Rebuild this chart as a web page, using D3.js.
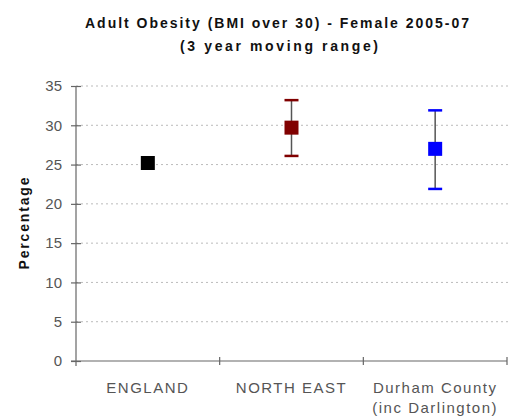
<!DOCTYPE html>
<html>
<head>
<meta charset="utf-8">
<title>Adult Obesity - Female 2005-07</title>
<style>
  body { margin: 0; background: #fff; }
  svg { display: block; font-family: Arial, "Liberation Sans", sans-serif; }
  .title { font-weight: bold; font-size: 14px; fill: #111; }
  .axis text { font-size: 15px; fill: #555; }
  .axis path, .axis line { stroke: #666; stroke-width: 1.2; }
  .grid line { stroke: #bbb; stroke-dasharray: 2,3; }
</style>
<script src="https://d3js.org/d3.v7.min.js"></script>
</head>
<body>
<svg width="508" height="418"></svg>
<script>
// data
var categories = ["ENGLAND", "NORTH EAST", "Durham County"];
var catLines = [["ENGLAND"], ["NORTH EAST"], ["Durham County", "(inc Darlington)"]];
var values = [25.2, 29.7, 27.0];
var lower = [null, 26.1, 21.9];
var upper = [null, 33.2, 31.9];
var markerColors = ["#000000", "#800000", "#0000ff"];
var yTicks = [0, 5, 10, 15, 20, 25, 30, 35];

var svg = d3.select("svg");
var margin = {top: 86, right: 0, bottom: 57, left: 76};
var W = +svg.attr("width"), H = +svg.attr("height");

var x = d3.scaleBand().domain(categories).range([margin.left, W - 1]).padding(0);
var y = d3.scaleLinear().domain([0, 35]).range([H - margin.bottom, margin.top]);

// title
svg.append("text").attr("class", "title")
  .attr("x", 277).attr("y", 28).attr("text-anchor", "middle")
  .attr("textLength", 384).attr("lengthAdjust", "spacing")
  .text("Adult Obesity (BMI over 30) - Female 2005-07");
svg.append("text").attr("class", "title")
  .attr("x", 279).attr("y", 51).attr("text-anchor", "middle")
  .attr("textLength", 198).attr("lengthAdjust", "spacing")
  .text("(3  year moving range)");

// gridlines
svg.append("g").attr("class", "grid")
  .selectAll("line").data(yTicks.filter(function(d) { return d > 0; }))
  .enter().append("line")
  .attr("x1", margin.left).attr("x2", W)
  .attr("y1", function(d) { return y(d); }).attr("y2", function(d) { return y(d); });

// y axis
var gy = svg.append("g").attr("class", "axis")
  .attr("transform", "translate(" + margin.left + ",0)")
  .call(d3.axisLeft(y).tickValues(yTicks).tickSize(5).tickPadding(9));
gy.select(".domain").attr("d", "M0," + (y(35)) + "V" + (y(0) + 5));
gy.selectAll(".tick line").attr("x1", 5).attr("x2", -5);

// x axis
var gx = svg.append("g").attr("class", "axis")
  .attr("transform", "translate(0," + y(0) + ")");
gx.append("line").attr("x1", margin.left - 5).attr("x2", W - 1).attr("y1", 0).attr("y2", 0)
  .attr("stroke", "#666").attr("stroke-width", 1.2);
var edges = categories.map(function(c) { return x(c) + x.bandwidth(); });
gx.selectAll(".xt").data(edges).enter().append("line")
  .attr("x1", function(d) { return d; }).attr("x2", function(d) { return d; })
  .attr("y1", -4).attr("y2", 4).attr("stroke", "#666").attr("stroke-width", 1.2);
var lbl = gx.selectAll(".lbl").data(categories).enter().append("text")
  .attr("text-anchor", "middle")
  .style("letter-spacing", "1.5px")
  .attr("x", function(d) { return x(d) + x.bandwidth() / 2; })
  .attr("y", 32);
lbl.selectAll("tspan").data(function(d, i) { return catLines[i]; })
  .enter().append("tspan")
  .attr("x", function() { return d3.select(this.parentNode).attr("x"); })
  .attr("dy", function(d, i) { return i === 0 ? 0 : 20; })
  .text(function(d) { return d; });

// error bars
var pts = categories.map(function(c, i) {
  return {c: c, v: values[i], lo: lower[i], hi: upper[i], col: markerColors[i]};
});
var bars = svg.append("g").selectAll("g").data(pts.filter(function(d) { return d.lo != null; }))
  .enter().append("g");
bars.append("line")
  .attr("x1", function(d) { return x(d.c) + x.bandwidth() / 2; })
  .attr("x2", function(d) { return x(d.c) + x.bandwidth() / 2; })
  .attr("y1", function(d) { return y(d.hi); }).attr("y2", function(d) { return y(d.lo); })
  .attr("stroke", "#555").attr("stroke-width", 1.5);
["hi", "lo"].forEach(function(k) {
  bars.append("line")
    .attr("x1", function(d) { return x(d.c) + x.bandwidth() / 2 - 7; })
    .attr("x2", function(d) { return x(d.c) + x.bandwidth() / 2 + 7; })
    .attr("y1", function(d) { return y(d[k]); }).attr("y2", function(d) { return y(d[k]); })
    .attr("stroke", function(d) { return d.col; }).attr("stroke-width", 2.5);
});

// markers
svg.append("g").selectAll("rect").data(pts).enter().append("rect")
  .attr("x", function(d) { return x(d.c) + x.bandwidth() / 2 - 7; })
  .attr("y", function(d) { return y(d.v) - 7; })
  .attr("width", 14).attr("height", 14)
  .attr("fill", function(d) { return d.col; });

// y label
svg.append("text").attr("class", "title")
  .attr("transform", "translate(29," + (y(0) + y(35)) / 2 + ") rotate(-90)")
  .attr("text-anchor", "middle")
  .attr("textLength", 92).attr("lengthAdjust", "spacing")
  .text("Percentage");
</script>
</body>
</html>
